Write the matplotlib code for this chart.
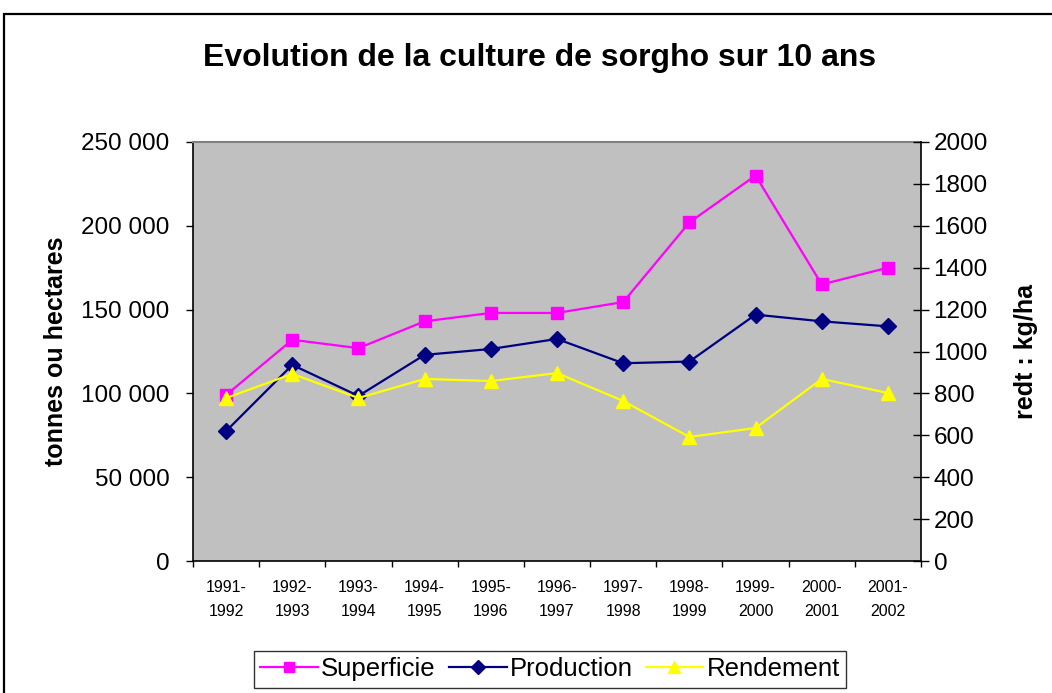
import matplotlib
matplotlib.use("Agg")
import matplotlib.pyplot as plt
from matplotlib.patches import Rectangle
from matplotlib.ticker import FuncFormatter, MultipleLocator, FixedLocator

plt.rcParams['font.family'] = ['Liberation Sans', 'DejaVu Sans']

campagnes = ["1991-\n1992", "1992-\n1993", "1993-\n1994", "1994-\n1995", "1995-\n1996",
             "1996-\n1997", "1997-\n1998", "1998-\n1999", "1999-\n2000", "2000-\n2001",
             "2001-\n2002"]
superficie = [99000, 132000, 127000, 143000, 148000, 148000, 154500, 202000, 230000, 165000, 175000]
production = [77500, 117000, 98500, 123000, 126500, 132500, 118000, 119000, 147000, 143000, 140000]
rendement = [778, 893, 778, 869, 859, 897, 764, 592, 635, 869, 802]

fig = plt.figure(figsize=(10.52, 6.93), dpi=100)
fig.patch.set_facecolor("white")

# outer chart frame (cut by the picture edges on right and bottom)
fig.patches.append(Rectangle((4 / 1052, -0.05), 1.1, 1 - 14 / 693 + 0.05,
                             transform=fig.transFigure, fill=False,
                             edgecolor="black", linewidth=1.6))

ax = fig.add_axes([193 / 1052, 1 - 561 / 693, (921 - 193) / 1052, (561 - 142) / 693])
ax.set_facecolor("#C0C0C0")
x = list(range(len(campagnes)))

l1, = ax.plot(x, superficie, color="#FF00FF", marker="s", markersize=9, linewidth=1.6,
              label="Superficie")
l2, = ax.plot(x, production, color="#000080", marker="D", markersize=8, linewidth=1.6,
              label="Production")

ax.set_xlim(-0.5, len(campagnes) - 0.5)
ax.set_ylim(0, 250000)
ax.yaxis.set_major_locator(MultipleLocator(50000))
ax.yaxis.set_major_formatter(FuncFormatter(lambda v, p: f"{int(v):,}".replace(",", " ")))
ax.set_xticks(x)
ax.set_xticklabels(campagnes, fontsize=11.5, linespacing=1.75)
ax.xaxis.set_minor_locator(FixedLocator([i - 0.5 for i in range(len(campagnes) + 1)]))
ax.tick_params(axis="x", which="major", length=0, pad=14)
ax.tick_params(axis="x", which="minor", length=4.5, direction="out", width=1)
ax.tick_params(axis="y", labelsize=17.5, length=5, direction="out", width=1, pad=12)
ax.set_ylabel("tonnes ou hectares", fontsize=18, fontweight="bold")
ax.yaxis.set_label_coords((68 - 193) / 728, 0.5)

for s in ["left", "bottom"]:
    ax.spines[s].set_color("black")
    ax.spines[s].set_linewidth(1.2)
ax.spines["top"].set_color("#808080")
ax.spines["top"].set_linewidth(1.5)
ax.spines["right"].set_visible(False)

ax2 = ax.twinx()
l3, = ax2.plot(x, rendement, color="#FFFF00", marker="^", markersize=10, linewidth=1.6,
               label="Rendement")
ax2.set_ylim(0, 2000)
ax2.yaxis.set_major_locator(MultipleLocator(200))
ax2.tick_params(axis="y", labelsize=17.5, length=12, direction="inout", width=1, pad=3)
ax2.set_ylabel("redt : kg/ha", fontsize=18, fontweight="bold")
ax2.yaxis.set_label_coords((1014 - 193) / 728, 0.5)
ax2.spines["right"].set_color("black")
ax2.spines["right"].set_linewidth(1.2)
for s in ["left", "top", "bottom"]:
    ax2.spines[s].set_visible(False)

fig.text(540 / 1052, 1 - 58 / 693, "Evolution de la culture de sorgho sur 10 ans",
         ha="center", va="center", fontsize=23, fontweight="bold")

leg = fig.legend([l1, l2, l3], ["Superficie", "Production", "Rendement"],
                 loc="upper left", bbox_to_anchor=(254 / 1052, 1 - 651 / 693),
                 ncol=3, fontsize=18.5, frameon=True, fancybox=False,
                 handlelength=2.25, handletextpad=0.12, columnspacing=0.5,
                 borderpad=0.25, borderaxespad=0, markerscale=0.85)
leg.get_frame().set_edgecolor("black")
leg.get_frame().set_linewidth(1.0)

fig.savefig("out.png", dpi=100)
